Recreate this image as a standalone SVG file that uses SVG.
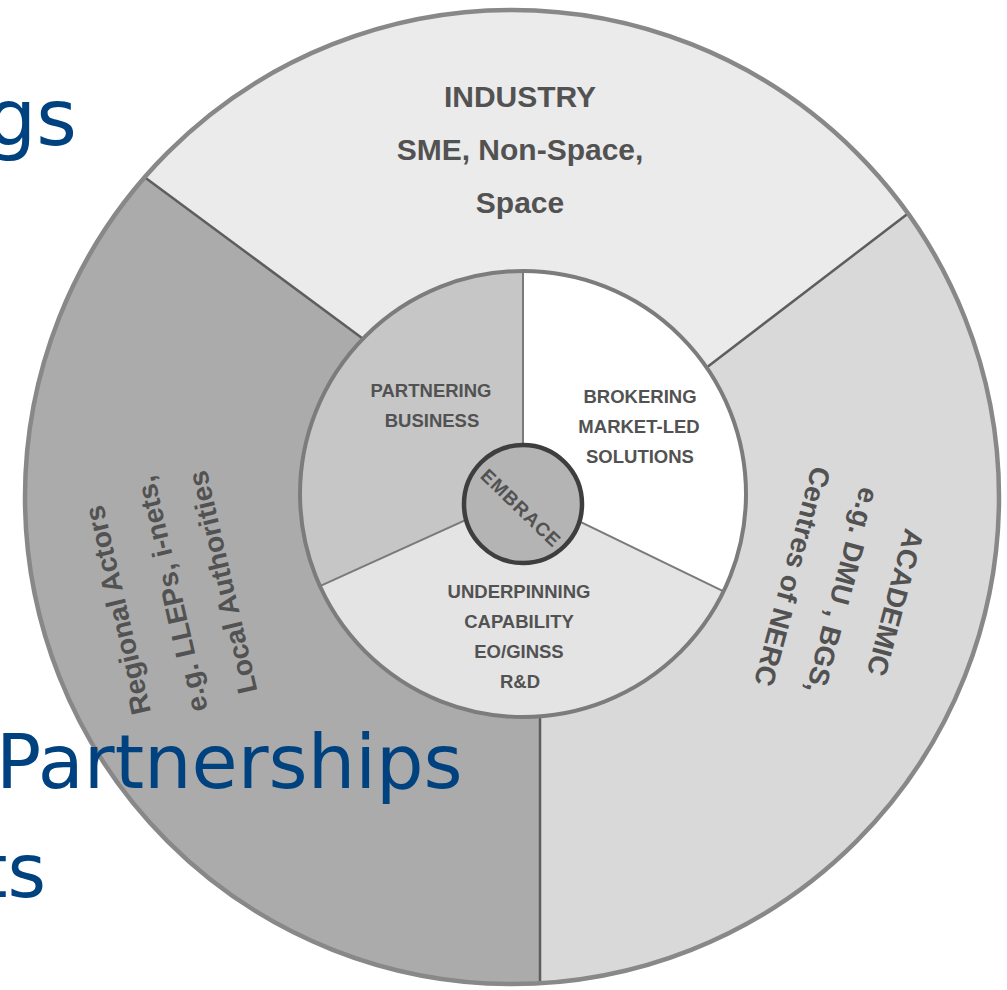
<svg xmlns="http://www.w3.org/2000/svg" width="1007" height="990" viewBox="0 0 1007 990">
  <style>
    .lbl { font-family: "Liberation Sans", Arial, sans-serif; font-weight: bold; fill: #525252; text-anchor: middle; }
    .big { font-size: 28px; }
    .top { font-size: 30px; }
    .mid { font-size: 18.5px; }
    .slide { font-family: "DejaVu Sans", Verdana, sans-serif; fill: #00427f; }
    .div-outer { stroke: #5e5e5e; stroke-width: 2.5; fill: none; }
    .div-inner { stroke: #7a7a7a; stroke-width: 2; fill: none; }
  </style>
  <defs>
    <clipPath id="outerClip">
      <circle cx="512" cy="497" r="487"/>
    </clipPath>
  </defs>

  <rect width="1007" height="990" fill="#ffffff"/>

  <!-- outer ring: three stakeholder sectors -->
  <g clip-path="url(#outerClip)">
    <g id="regional">
      <circle cx="512" cy="497" r="487" fill="#ababab"/>
    </g>
    <g id="industry">
      <path d="M -69 20 L -69 -20 L 1117 -20 L 1117 53 L 650 411 L 523 494 L 430 388 Z" fill="#ebebeb"/>
    </g>
    <g id="academic">
      <path d="M 1117 53 L 1117 1100 L 540 1100 L 540 600 L 523 494 L 650 411 Z" fill="#d9d9d9"/>
    </g>
    <g id="dividers">
      <line class="div-outer" x1="120" y1="159" x2="366" y2="341"/>
      <line class="div-outer" x1="940" y1="189" x2="706" y2="368"/>
      <line class="div-outer" x1="540" y1="1000" x2="540" y2="714"/>
    </g>
  </g>
  <circle cx="512" cy="497" r="487" fill="none" stroke="#888888" stroke-width="4.5"/>

  <!-- inner disc: three activity sectors -->
  <g id="partnering">
    <path d="M 523 494 L 523 271 A 223 223 0 0 0 319.9 586.1 Z" fill="#c6c6c6"/>
    <text class="lbl mid" x="431" y="397">PARTNERING</text>
    <text class="lbl mid" x="432" y="427">BUSINESS</text>
  </g>
  <g id="brokering">
    <path d="M 523 494 L 523 271 A 223 223 0 0 1 723.6 591.4 Z" fill="#ffffff"/>
    <text class="lbl mid" x="640" y="403">BROKERING</text>
    <text class="lbl mid" x="639" y="433">MARKET-LED</text>
    <text class="lbl mid" x="640" y="463">SOLUTIONS</text>
  </g>
  <g id="underpinning">
    <path d="M 523 494 L 723.6 591.4 A 223 223 0 0 1 319.9 586.1 Z" fill="#e4e4e4"/>
    <text class="lbl mid" x="519" y="598">UNDERPINNING</text>
    <text class="lbl mid" x="519" y="628">CAPABILITY</text>
    <text class="lbl mid" x="519" y="658">EO/GINSS</text>
    <text class="lbl mid" x="520" y="688">R&amp;D</text>
  </g>
  <g id="inner-dividers">
    <line class="div-inner" x1="523" y1="494" x2="523" y2="271"/>
    <line class="div-inner" x1="523" y1="494" x2="723.6" y2="591.4"/>
    <line class="div-inner" x1="523" y1="494" x2="319.9" y2="586.1"/>
  </g>
  <circle cx="523" cy="494" r="223" fill="none" stroke="#7c7c7c" stroke-width="4"/>

  <!-- outer sector labels -->
  <g id="industry-label">
    <text class="lbl top" x="520" y="107">INDUSTRY</text>
    <text class="lbl top" x="520" y="160">SME, Non-Space,</text>
    <text class="lbl top" x="520" y="213">Space</text>
  </g>
  <g id="regional-label">
    <text class="lbl big" transform="translate(127,608) rotate(-103)">Regional Actors</text>
    <text class="lbl big" transform="translate(181,592) rotate(-103)">e.g. LLEPs, i-nets,</text>
    <text class="lbl big" transform="translate(232,580) rotate(-103)">Local Authorities</text>
  </g>
  <g id="academic-label">
    <text class="lbl big" transform="translate(886,600) rotate(105)">ACADEMIC</text>
    <text class="lbl big" transform="translate(833,588) rotate(105)">e.g. DMU , BGS,</text>
    <text class="lbl big" transform="translate(783,574) rotate(105)">Centres of NERC</text>
  </g>

  <!-- hub -->
  <g id="embrace">
    <circle cx="523" cy="504" r="59" fill="#b4b4b4" stroke="#3e3e3e" stroke-width="4.5"/>
    <text class="lbl" font-size="19" font-weight="normal" fill="#404040" transform="translate(516,512.5) rotate(44)" textLength="102" lengthAdjust="spacing">EMBRACE</text>
  </g>

  <!-- slide text around the figure -->
  <text class="slide" x="77" y="145" font-size="78" text-anchor="end">gs</text>
  <text class="slide" x="-4" y="788" font-size="75">Partnerships</text>
  <text class="slide" x="46" y="897" font-size="74" text-anchor="end">ts</text>
</svg>
